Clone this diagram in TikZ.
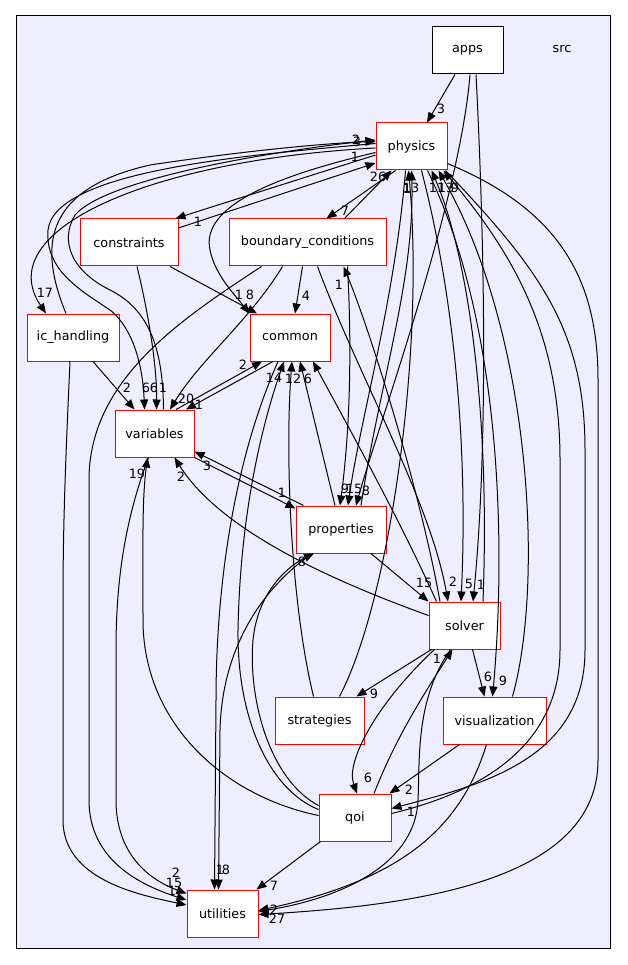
\documentclass[tikz,border=0pt]{standalone}
\usepackage{fontspec}
\setmainfont{DejaVu Sans}
\usetikzlibrary{arrows.meta}
\definecolor{clusterbg}{HTML}{EEEEFF}

\begin{document}
\begin{tikzpicture}[
  x=1pt, y=-1pt,
  font=\fontsize{12.8}{14}\selectfont,
  >={Triangle[length=10pt,width=8pt]},
  dirbox/.style={draw=red, line width=1pt, fill=white, minimum height=47pt, inner sep=0pt},
  topbox/.style={draw=black, line width=1pt, fill=white, minimum height=47pt, inner sep=0pt},
  dep/.style={->, line width=1pt},
  lbl/.style={inner sep=0pt}
]
  \useasboundingbox[fill=white] (0,0) rectangle (627,965);
  \draw[fill=clusterbg, line width=1pt] (16,16) rectangle (610,948);
  \node (srclabel) at (562,49) {src};

  % directories
  \node[topbox, minimum width=71pt] (apps) at (467.5,50.5) {apps};
  \node[dirbox, minimum width=71pt] (physics) at (411.5,146.5) {physics};
  \node[dirbox, minimum width=98pt] (constraints) at (129,242.5) {constraints};
  \node[dirbox, minimum width=157pt] (bcond) at (307.5,242.5) {boundary\_conditions};
  \node[dirbox, minimum width=92pt] (ichandling) at (73,337.5) {ic\_handling};
  \node[dirbox, minimum width=80pt] (common) at (290,337.5) {common};
  \node[dirbox, minimum width=79pt] (variables) at (154.5,433.5) {variables};
  \node[dirbox, minimum width=90pt] (properties) at (341,529.5) {properties};
  \node[dirbox, minimum width=71pt] (solver) at (464.5,625.5) {solver};
  \node[dirbox, minimum width=89pt] (strategies) at (319.5,720.5) {strategies};
  \node[dirbox, minimum width=103pt] (visualization) at (494.5,720.5) {visualization};
  \node[dirbox, minimum width=72pt] (qoi) at (355,817.5) {qoi};
  \node[dirbox, minimum width=71pt] (utilities) at (222.5,913.5) {utilities};

  % apps
  \draw[dep] ([xshift=-12.5pt]apps.south) -- ([xshift=15.5pt]physics.north);
  \draw[dep] ([xshift=2.5pt]apps.south) .. controls (460,200) and (380,420) .. ([xshift=15pt]properties.north);
  \draw[dep] ([xshift=8.5pt]apps.south) .. controls (485,250) and (488,450) .. ([xshift=8.5pt]solver.north);

  % physics and the loop on the left
  \draw[dep] ([yshift=-8.5pt]physics.west) -- ([xshift=-3pt]constraints.north east);
  \draw[dep] ([yshift=14.5pt]constraints.east) -- ([yshift=-16.5pt]physics.west);
  \draw[dep] ([yshift=-1.5pt]physics.west) .. controls (150,160) and (-10,230) .. ([xshift=-27pt]ichandling.north);
  \draw[dep] ([xshift=-7pt]ichandling.north) .. controls (40,250) and (40,190) .. (150,165)
    .. controls (250,150) and (330,143) .. ([yshift=5pt]physics.west);
  \draw[dep] ([yshift=3pt]physics.west) .. controls (250,155) and (55,170) .. (48,230)
    .. controls (45,270) and (80,290) .. (110,310) .. controls (135,330) and (143,370) .. ([xshift=-10pt]variables.north);
  \draw[dep] ([xshift=9pt]variables.north) .. controls (163,350) and (150,310) .. (110,290)
    .. controls (70,270) and (60,240) .. (75,215) .. controls (110,175) and (300,148) .. ([yshift=6.5pt]physics.west);
  \draw[dep] ([yshift=-6pt]physics.west) .. controls (280,175) and (200,205) .. (210,250)
    .. controls (215,275) and (235,295) .. (common.north west);
  \draw[dep] ([xshift=-16pt]physics.south) -- ([xshift=19pt]bcond.north);
  \draw[dep] ([xshift=37pt]bcond.north) -- ([xshift=-20pt]physics.south);
  \draw[dep] ([xshift=-6pt]physics.south) .. controls (395,300) and (360,420) .. ([xshift=7pt]properties.north);
  \draw[dep] ([xshift=20pt]properties.north) .. controls (380,380) and (415,280) .. (physics.south);
  \draw[dep] ([xshift=10pt]physics.south) .. controls (455,300) and (468,450) .. ([xshift=-3.5pt]solver.north);
  \draw[dep] ([xshift=18.5pt]solver.north) .. controls (490,420) and (470,260) .. ([xshift=20pt]physics.south);
  \draw[dep] ([xshift=16pt]physics.south) .. controls (505,330) and (505,560) .. ([xshift=-2pt]visualization.north);
  \draw[dep] ([xshift=18pt]visualization.north) .. controls (545,580) and (530,330) .. ([xshift=27pt]physics.south);
  \draw[dep] ([xshift=-2pt]physics.south east) .. controls (540,270) and (585,330) .. (585,450) -- (585,650)
    .. controls (585,760) and (480,785) .. ([yshift=9pt]qoi.east);
  \draw[dep] ([yshift=4pt]qoi.east) .. controls (490,790) and (560,740) .. (560,650) -- (560,460)
    .. controls (560,330) and (510,250) .. ([xshift=-4pt]physics.south east);
  \draw[dep] ([yshift=-17pt]physics.east) .. controls (560,210) and (598,280) .. (598,380) -- (598,760)
    .. controls (598,880) and (420,905) .. ([yshift=-1pt]utilities.east);
  \draw[dep] ([xshift=20pt]strategies.north) .. controls (390,600) and (425,350) .. ([xshift=-3pt]physics.south);

  % constraints, boundary_conditions, ic_handling
  \draw[dep] ([xshift=8pt]constraints.south) .. controls (150,320) and (157,370) .. ([xshift=2pt]variables.north);
  \draw[dep] ([xshift=41pt]constraints.south) -- ([xshift=-33pt]common.north);
  \draw[dep] ([xshift=-5pt]bcond.south) -- ([xshift=5pt]common.north);
  \draw[dep] ([xshift=-25pt]bcond.south) .. controls (250,320) and (200,360) .. ([xshift=15.5pt]variables.north);
  \draw[dep] ([xshift=40pt]bcond.south) .. controls (352,350) and (350,430) .. ([xshift=-1pt]properties.north);
  \draw[dep] ([xshift=10pt]bcond.south) .. controls (360,380) and (430,500) .. ([xshift=-16.5pt]solver.north);
  \draw[dep] ([xshift=-24.5pt]solver.north) .. controls (420,490) and (370,330) .. ([xshift=36pt]bcond.south);
  \draw[dep] ([xshift=33pt]bcond.south west) .. controls (180,320) and (89,380) .. (89,480) -- (89,800)
    .. controls (89,860) and (140,885) .. ([yshift=13.5pt]utilities.west);
  \draw[dep] ([xshift=20pt]ichandling.south) -- ([xshift=-20pt]variables.north);
  \draw[dep] ([xshift=-3pt]ichandling.south) .. controls (66,450) and (63,520) .. (63,600) -- (63,820)
    .. controls (63,880) and (140,895) .. ([yshift=8.5pt]utilities.west);

  % variables and common
  \draw[dep] ([xshift=21.5pt]variables.north) -- ([xshift=-28pt]common.south);
  \draw[dep] ([xshift=-17pt]common.south) -- ([xshift=31.5pt]variables.north);
  \draw[dep] (variables.south east) -- ([yshift=-3pt]properties.north west);
  \draw[dep] ([xshift=8pt]properties.north west) -- ([yshift=-18pt]variables.east);
  \draw[dep] ([yshift=10pt]solver.west) .. controls (330,580) and (220,530) .. ([xshift=20pt]variables.south);
  \draw[dep] ([yshift=2pt]qoi.west) .. controls (220,795) and (143,720) .. (143,620)
    .. controls (143,540) and (142,500) .. ([xshift=-7pt]variables.south);
  \draw[dep] ([xshift=-6pt]variables.south) .. controls (125,520) and (116,580) .. (116,650) -- (116,800)
    .. controls (116,855) and (150,880) .. ([yshift=20pt]utilities.west);
  \draw[dep] ([xshift=-12pt]common.south) .. controls (230,470) and (216,600) .. (216,700) -- ([xshift=-8pt]utilities.north);
  \draw[dep] ([xshift=-6pt]properties.north) -- ([xshift=10pt]common.south);
  \draw[dep] ([xshift=-6pt]strategies.north) .. controls (290,600) and (285,450) .. ([xshift=2pt]common.south);
  \draw[dep] ([yshift=8pt]qoi.west) .. controls (270,790) and (237,720) .. (238,630)
    .. controls (240,520) and (260,430) .. ([xshift=-6pt]common.south);
  \draw[dep] ([xshift=-28pt]solver.north) .. controls (400,520) and (350,430) .. ([xshift=23pt]common.south);

  % properties, solver and below
  \draw[dep] ([xshift=30pt]properties.south) -- (solver.north west);
  \draw[dep] ([yshift=12pt]qoi.west) .. controls (270,780) and (248,700) .. (253,640)
    .. controls (258,590) and (290,565) .. ([xshift=-27pt]properties.south);
  \draw[dep] ([xshift=-29pt]properties.south) .. controls (260,590) and (222,650) .. (220,730) -- ([xshift=-4pt]utilities.north);
  \draw[dep] ([xshift=3pt]solver.south west) -- ([xshift=-8pt]strategies.north east);
  \draw[dep] ([xshift=8pt]solver.south) -- ([xshift=-10pt]visualization.north);
  \draw[dep] ([xshift=-30pt]solver.south) .. controls (380,700) and (345,760) .. ([xshift=2pt]qoi.north);
  \draw[dep] ([xshift=19pt]qoi.north) .. controls (395,740) and (420,700) .. ([xshift=-12pt]solver.south);
  \draw[dep] ([xshift=-35pt]visualization.south) -- ([xshift=-2pt]qoi.north east);
  \draw[dep] ([xshift=2pt]qoi.south west) -- ([xshift=-2pt]utilities.north east);
  \draw[dep] ([xshift=-8pt]visualization.south) .. controls (460,830) and (400,880) .. ([yshift=3pt]utilities.east);
  \draw[dep] ([xshift=-14pt]solver.south) .. controls (415,700) and (420,760) .. (418,800)
    .. controls (415,870) and (330,900) .. ([yshift=2pt]utilities.east);

  % edge counts
  \foreach \lx/\ly/\lt [count=\i] in {441/109/3, 366/491/8, 481/585/1, 198/222/1, 355/157/1,
      45/293/17, 356/140/2, 357/142/3, 239/295/1, 250/295/8, 345/211/7, 378/177/26,
      345/489/9, 354/489/15, 411/188/13, 407/189/1, 469/584/5, 437/188/11, 446/188/13,
      455/188/9, 503/681/9, 411/812/1, 277/919/27, 274/910/2, 150/388/66, 163/388/1,
      306/296/4, 186/399/20, 453/582/2, 339/285/1, 127/388/2, 243/365/2, 199/405/1,
      282/493/1, 207/466/3, 181/477/2, 137/474/19, 176/873/2, 174/883/15, 172/891/1,
      220/870/1, 226/870/8, 308/379/6, 293/379/12, 274/378/14, 424/583/15, 302/562/8,
      374/694/9, 488/677/6, 368/778/6, 437/659/1, 409/790/2, 274/886/7}
    \node[lbl] (cnt\i) at (\lx,\ly) {\lt};
\end{tikzpicture}
\end{document}
